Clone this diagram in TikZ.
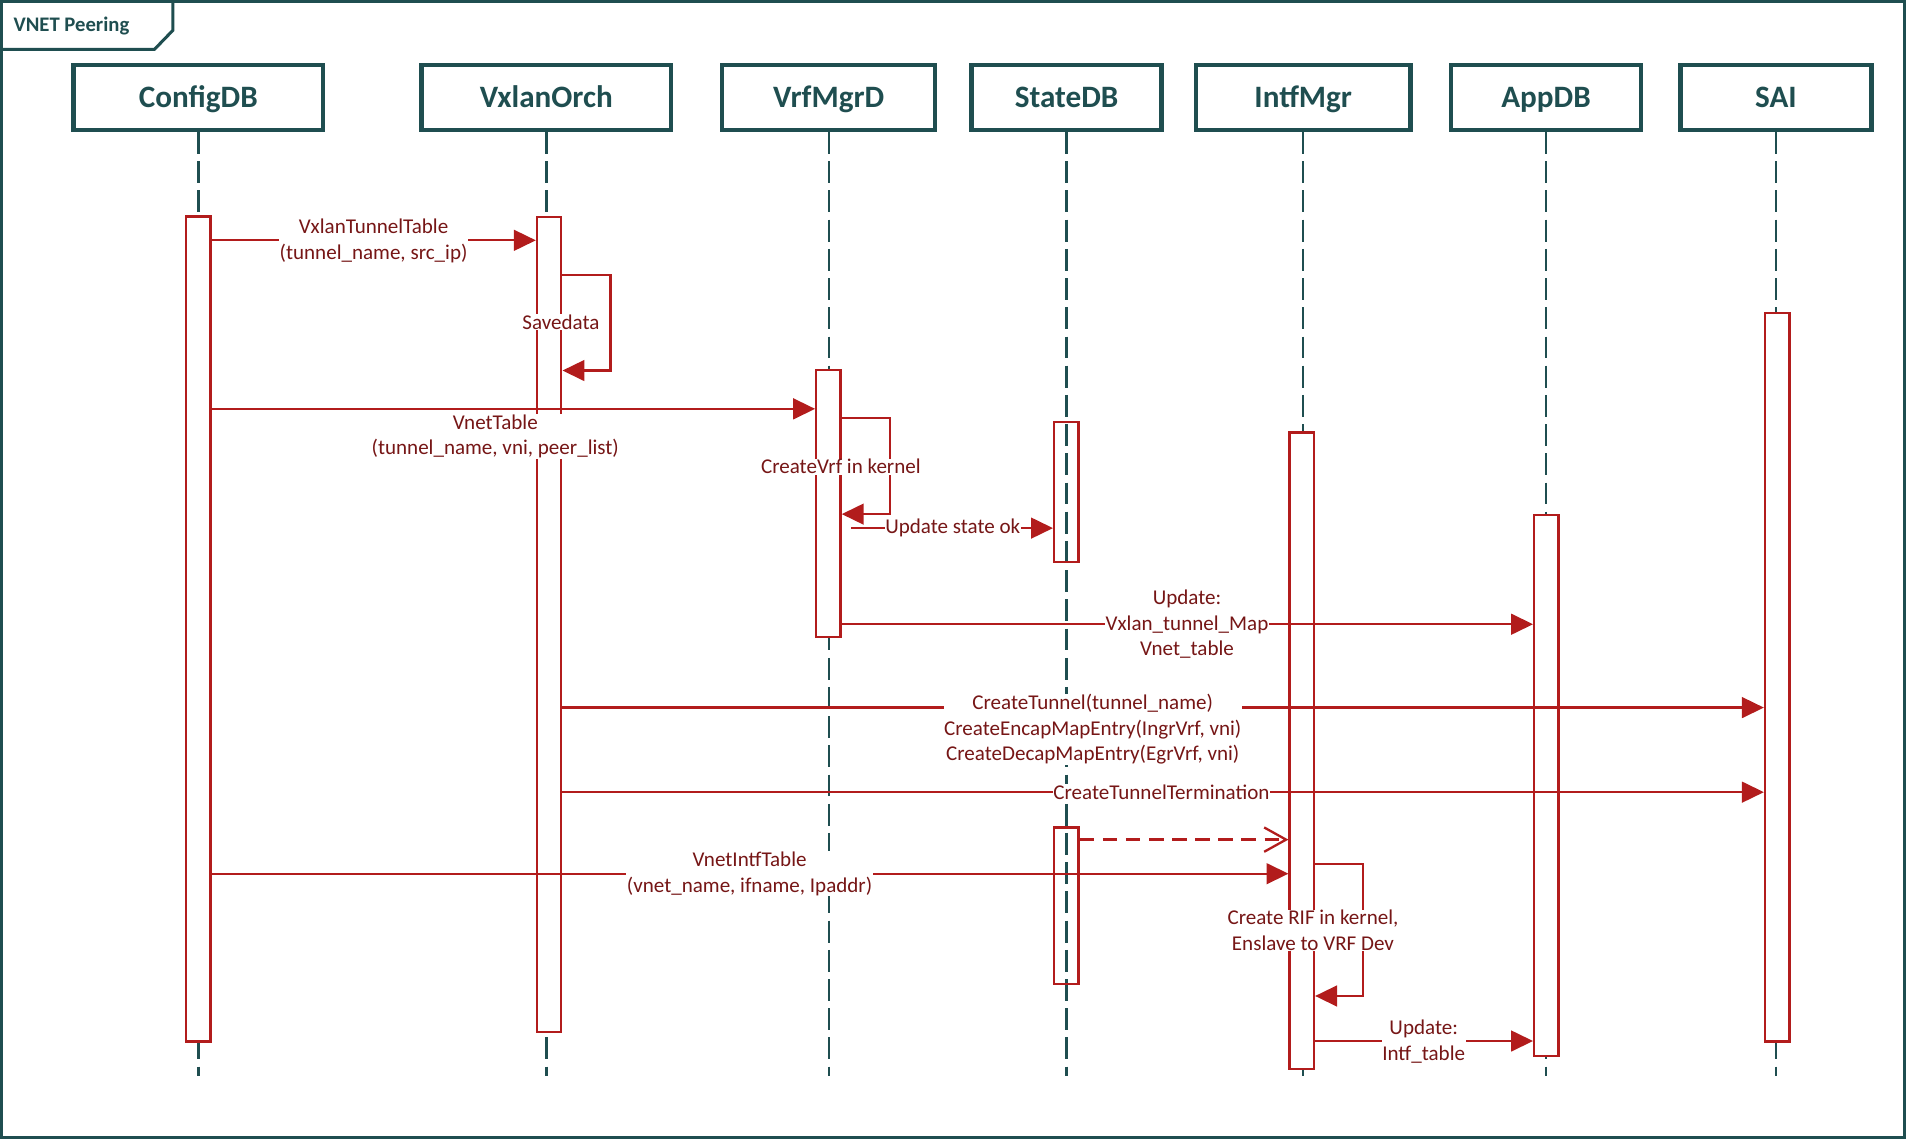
\documentclass[tikz,border=0pt]{standalone}
\usepackage{fontspec}
\setmainfont{Carlito}
\usetikzlibrary{arrows.meta}
\definecolor{tealdk}{RGB}{31,78,80}
\definecolor{redln}{RGB}{178,28,28}
\definecolor{redtx}{RGB}{118,22,22}
\begin{document}
\begin{tikzpicture}[x=1pt,y=-1pt,
  hdr/.style={draw=tealdk, line width=3.6pt, minimum height=53.5pt, inner sep=0pt, text=tealdk, text height=16.5pt, text depth=0pt, font=\fontsize{25.6}{30}\selectfont\bfseries},
  life/.style={draw=tealdk, line width=1.9pt, dash pattern=on 18pt off 6pt},
  actbar/.style={draw=redln, line width=1.9pt, fill=white, minimum width=20pt, inner sep=0pt},
  hollowbar/.style={draw=redln, line width=1.9pt, minimum width=20pt, inner sep=0pt},
  msg/.style={draw=redln, line width=1.9pt, -{Triangle[length=18pt,width=17pt]}},
  rmsg/.style={draw=redln, line width=1.9pt, dash pattern=on 12pt off 7pt, -{Straight Barb[length=18pt,width=20pt]}},
  lbl/.style={fill=white, text=redtx, inner sep=0.5pt, align=center, font=\fontsize{17.3}{21}\selectfont}
]
\useasboundingbox (0,0) rectangle (1568,936);
% frame
\draw[tealdk, line width=2.5pt] (1.5,1.5) rectangle (1565,934.5);
\draw[tealdk, line width=2.5pt] (1.5,40.5) -- (127,40.5) -- (142,25) -- (142,1.5);
\node[anchor=west, text=tealdk, inner sep=0pt, font=\fontsize{17}{20}\selectfont\bfseries] (title) at (11,21) {VNET Peering};

% headers
\node[hdr, minimum width=205pt] (hcfg) at (163,80) {ConfigDB};
\node[hdr, minimum width=205pt] (hvx) at (449,80) {VxlanOrch};
\node[hdr, minimum width=175pt] (hvrf) at (681,80) {VrfMgrD};
\node[hdr, minimum width=156pt] (hst) at (876.5,80) {StateDB};
\node[hdr, minimum width=176pt] (hintf) at (1071,80) {IntfMgr};
\node[hdr, minimum width=156pt] (happ) at (1270.5,80) {AppDB};
\node[hdr, minimum width=157pt] (hsai) at (1459.5,80) {SAI};

% lifeline ends
\coordinate (ecfg) at (163,884);
\coordinate (evx) at (449,884);
\coordinate (evrf) at (681,884);
\coordinate (est) at (876.5,884);
\coordinate (eintf) at (1071,884);
\coordinate (eapp) at (1270.5,884);
\coordinate (esai) at (1459.5,884);

\draw[life] (hcfg.south) -- (ecfg);
\draw[life] (hvx.south) -- (evx);
\draw[life] (hvrf.south) -- (evrf);
\draw[life] (hst.south) -- (est);
\draw[life] (hintf.south) -- (eintf);
\draw[life] (happ.south) -- (eapp);
\draw[life] (hsai.south) -- (esai);

% activation bars
\node[actbar, minimum height=678pt] (bcfg) at (163,517) {};
\node[actbar, minimum height=669.5pt] (bvx) at (451.3,513.25) {};
\node[actbar, minimum height=219.5pt] (bvrf) at (680.8,413.75) {};
\node[hollowbar, minimum height=115pt] (bst1) at (876.3,404.5) {};
\node[hollowbar, minimum height=128.5pt] (bst2) at (876.3,744.25) {};
\node[actbar, minimum height=523pt] (bintf) at (1069.8,617) {};
\node[actbar, minimum height=445pt] (bapp) at (1270.8,645.5) {};
\node[actbar, minimum height=599pt] (bsai) at (1460.5,556.5) {};

% messages
\draw[msg] (bcfg.east |- 0,197.5) -- (bvx.west |- 0,197.5);
\draw[msg] (bvx.east |- 0,226) -- ++(39.5,0) |- (bvx.east |- 0,304.5);
\draw[msg] (bcfg.east |- 0,336) -- (bvrf.west |- 0,336);
\draw[msg] (bvrf.east |- 0,343.5) -- ++(39.5,0) |- (bvrf.east |- 0,422.5);
\draw[msg, shorten <=8pt] (bvrf.east |- 0,434) -- (bst1.west |- 0,434);
\draw[msg] (bvrf.east |- 0,513) -- (bapp.west |- 0,513);
\draw[msg] (bvx.east |- 0,581.5) -- (bsai.west |- 0,581.5);
\draw[msg] (bvx.east |- 0,651) -- (bsai.west |- 0,651);
\draw[rmsg] (bst2.east |- 0,690) -- (bintf.west |- 0,690);
\draw[msg] (bcfg.east |- 0,718) -- (bintf.west |- 0,718);
\draw[msg] (bintf.east |- 0,710) -- ++(39.5,0) |- (bintf.east |- 0,818.5);
\draw[msg] (bintf.east |- 0,855.5) -- (bapp.west |- 0,855.5);

% labels
\node[lbl] (l1) at (307,198) {VxlanTunnelTable\\(tunnel\_name, src\_ip)};
\node[lbl] (l2) at (461,265) {Savedata};
\node[lbl] (l3) at (407,358.5) {VnetTable\\(tunnel\_name, vni, peer\_list)};
\node[lbl] (l4) at (691,383.5) {CreateVrf in kernel};
\node[lbl] (l5) at (783,434) {Update state ok};
\node[lbl] (l6) at (975.5,513) {Update:\\Vxlan\_tunnel\_Map\\Vnet\_table};
\node[lbl] (l7) at (898,599.5) {CreateTunnel(tunnel\_name)\\CreateEncapMapEntry(IngrVrf, vni)\\CreateDecapMapEntry(EgrVrf, vni)};
\node[lbl] (l8) at (954.5,651) {CreateTunnelTermination};
\node[lbl] (l9) at (616,718) {VnetIntfTable\\(vnet\_name, ifname, Ipaddr)};
\node[lbl] (l10) at (1079,764.5) {Create RIF in kernel,\\Enslave to VRF Dev};
\node[lbl] (l11) at (1170,856) {Update:\\Intf\_table};
\end{tikzpicture}
\end{document}
